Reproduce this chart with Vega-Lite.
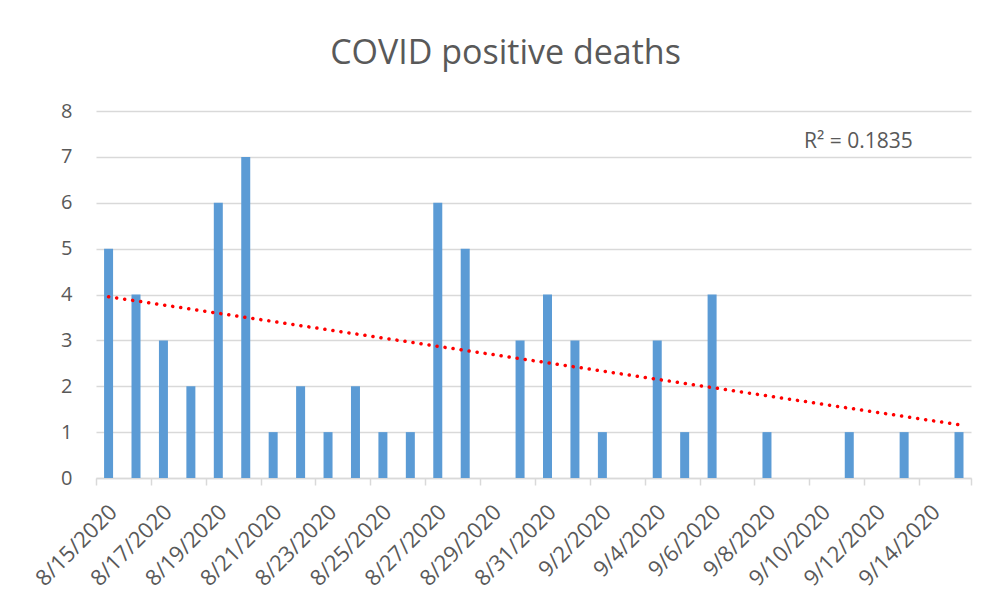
{
  "$schema": "https://vega.github.io/schema/vega-lite/v6.json",
  "width": 875,
  "height": 367,
  "autosize": "none",
  "padding": {"left": 96, "top": 111, "right": 31, "bottom": 130},
  "background": "white",
  "config": {"view": {"stroke": null}, "font": "Open Sans"},
  "title": {
    "text": "COVID positive deaths",
    "fontSize": 34,
    "fontWeight": "normal",
    "color": "#595959",
    "font": "Open Sans",
    "anchor": "middle",
    "frame": "group",
    "dx": -28,
    "offset": 3,
    "baseline": "alphabetic"
  },
  "data": {
    "values": [
      {"date": "2020-08-15T00:00:00", "deaths": 5},
      {"date": "2020-08-16T00:00:00", "deaths": 4},
      {"date": "2020-08-17T00:00:00", "deaths": 3},
      {"date": "2020-08-18T00:00:00", "deaths": 2},
      {"date": "2020-08-19T00:00:00", "deaths": 6},
      {"date": "2020-08-20T00:00:00", "deaths": 7},
      {"date": "2020-08-21T00:00:00", "deaths": 1},
      {"date": "2020-08-22T00:00:00", "deaths": 2},
      {"date": "2020-08-23T00:00:00", "deaths": 1},
      {"date": "2020-08-24T00:00:00", "deaths": 2},
      {"date": "2020-08-25T00:00:00", "deaths": 1},
      {"date": "2020-08-26T00:00:00", "deaths": 1},
      {"date": "2020-08-27T00:00:00", "deaths": 6},
      {"date": "2020-08-28T00:00:00", "deaths": 5},
      {"date": "2020-08-30T00:00:00", "deaths": 3},
      {"date": "2020-08-31T00:00:00", "deaths": 4},
      {"date": "2020-09-01T00:00:00", "deaths": 3},
      {"date": "2020-09-02T00:00:00", "deaths": 1},
      {"date": "2020-09-04T00:00:00", "deaths": 3},
      {"date": "2020-09-05T00:00:00", "deaths": 1},
      {"date": "2020-09-06T00:00:00", "deaths": 4},
      {"date": "2020-09-08T00:00:00", "deaths": 1},
      {"date": "2020-09-11T00:00:00", "deaths": 1},
      {"date": "2020-09-13T00:00:00", "deaths": 1},
      {"date": "2020-09-15T00:00:00", "deaths": 1}
    ],
    "format": {"parse": {"date": "date"}}
  },
  "layer": [
    {
      "mark": {"type": "bar", "width": 9, "color": "#5B9BD5"},
      "encoding": {
        "x": {
          "field": "date",
          "type": "temporal",
          "scale": {
            "padding": 0,
            "nice": false,
            "domain": [
              {"year": 2020, "month": 8, "date": 14, "hours": 13},
              {"year": 2020, "month": 9, "date": 15, "hours": 10, "minutes": 30}
            ]
          },
          "axis": {
            "values": [
              {"year": 2020, "month": 8, "date": 14, "hours": 13},
              {"year": 2020, "month": 8, "date": 16, "hours": 13},
              {"year": 2020, "month": 8, "date": 18, "hours": 13},
              {"year": 2020, "month": 8, "date": 20, "hours": 13},
              {"year": 2020, "month": 8, "date": 22, "hours": 13},
              {"year": 2020, "month": 8, "date": 24, "hours": 13},
              {"year": 2020, "month": 8, "date": 26, "hours": 13},
              {"year": 2020, "month": 8, "date": 28, "hours": 13},
              {"year": 2020, "month": 8, "date": 30, "hours": 13},
              {"year": 2020, "month": 9, "date": 1, "hours": 13},
              {"year": 2020, "month": 9, "date": 3, "hours": 13},
              {"year": 2020, "month": 9, "date": 5, "hours": 13},
              {"year": 2020, "month": 9, "date": 7, "hours": 13},
              {"year": 2020, "month": 9, "date": 9, "hours": 13},
              {"year": 2020, "month": 9, "date": 11, "hours": 13},
              {"year": 2020, "month": 9, "date": 13, "hours": 13},
              {"year": 2020, "month": 9, "date": 15, "hours": 10, "minutes": 30}
            ],
            "labelExpr": "+datum.value > +datetime(2020, 8, 14) ? '' : timeFormat(+datum.value + 39600000, '%-m/%-d/%Y')",
            "labelAngle": -45,
            "labelOffset": 10,
            "labelFontSize": 22,
            "labelColor": "#595959",
            "labelFont": "Open Sans",
            "labelPadding": 16,
            "labelOverlap": false,
            "labelFlush": false,
            "labelBound": false,
            "tickColor": "#D9D9D9",
            "tickSize": 7,
            "tickWidth": 1.5,
            "domainColor": "#D9D9D9",
            "domainWidth": 1.5,
            "grid": false,
            "title": null
          }
        },
        "y": {
          "field": "deaths",
          "type": "quantitative",
          "scale": {"domain": [0, 8]},
          "axis": {
            "values": [0, 1, 2, 3, 4, 5, 6, 7, 8],
            "grid": true,
            "gridColor": "#D9D9D9",
            "gridWidth": 1.5,
            "domain": false,
            "ticks": false,
            "labelFontSize": 20,
            "labelColor": "#595959",
            "labelFont": "Open Sans",
            "labelPadding": 24,
            "title": null
          }
        }
      }
    },
    {
      "transform": [{"regression": "deaths", "on": "date"}],
      "mark": {"type": "line", "color": "#FF0000", "strokeWidth": 3.5, "strokeDash": [0.1, 8], "strokeCap": "round"},
      "encoding": {
        "x": {"field": "date", "type": "temporal"},
        "y": {"field": "deaths", "type": "quantitative"}
      }
    },
    {
      "data": {"values": [{"label": "R² = 0.1835"}]},
      "mark": {"type": "text", "fontSize": 21, "color": "#595959", "font": "Open Sans", "baseline": "alphabetic", "align": "center"},
      "encoding": {
        "text": {"field": "label"},
        "x": {"datum": {"year": 2020, "month": 9, "date": 11, "hours": 8}, "type": "temporal"},
        "y": {"datum": 7.2, "type": "quantitative"}
      }
    }
  ]
}
